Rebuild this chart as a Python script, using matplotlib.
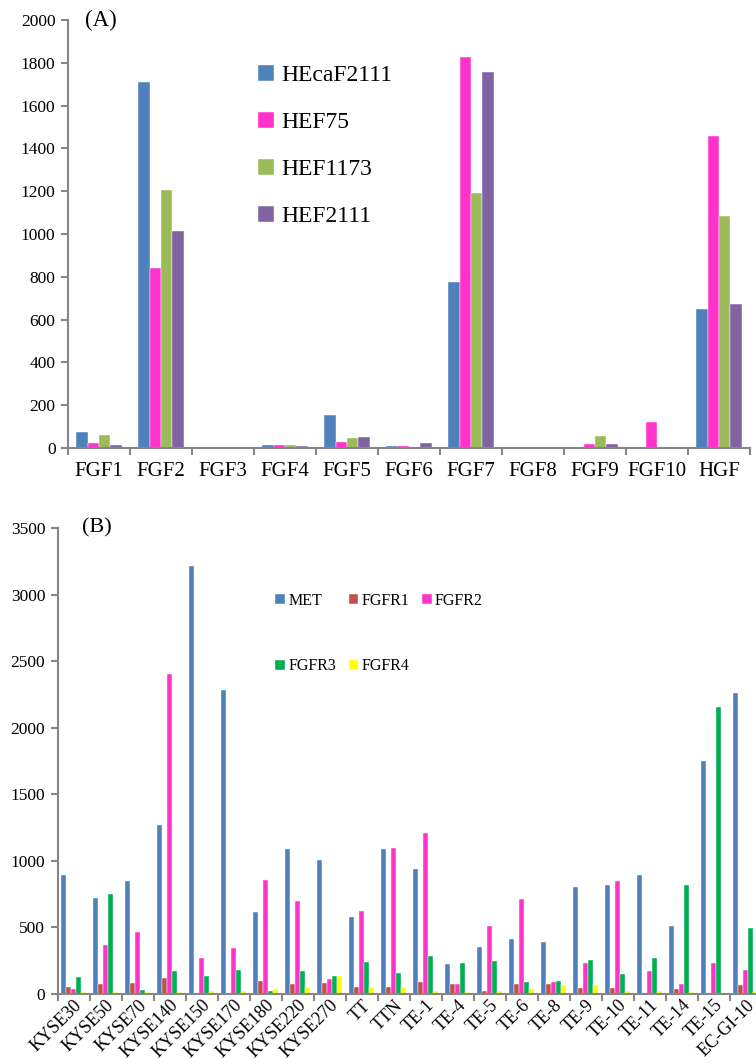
import numpy as np
import matplotlib.pyplot as plt

plt.rcParams['font.family'] = ['Liberation Serif', 'DejaVu Serif']

# Panel A data
genes_a = ['FGF1', 'FGF2', 'FGF3', 'FGF4', 'FGF5', 'FGF6', 'FGF7', 'FGF8', 'FGF9', 'FGF10', 'HGF']
hecaf2111 = [75, 1710, 0, 15, 155, 10, 778, 0, 0, 0, 648]
hef75 = [25, 840, 0, 12, 30, 10, 1825, 0, 17, 120, 1458]
hef1173 = [62, 1205, 0, 12, 48, 5, 1190, 0, 55, 0, 1085]
hef2111 = [15, 1015, 0, 8, 52, 25, 1758, 0, 20, 2, 675]
series_a = ['HEcaF2111', 'HEF75', 'HEF1173', 'HEF2111']

# Panel B data
cells_b = ['KYSE30', 'KYSE50', 'KYSE70', 'KYSE140', 'KYSE150', 'KYSE170', 'KYSE180',
           'KYSE220', 'KYSE270', 'TT', 'TTN', 'TE-1', 'TE-4', 'TE-5', 'TE-6', 'TE-8',
           'TE-9', 'TE-10', 'TE-11', 'TE-14', 'TE-15', 'EC-GI-10']
met = [895, 722, 848, 1268, 3215, 2280, 615, 1092, 1008, 582, 1092, 942, 225, 355,
       415, 392, 805, 820, 895, 512, 1750, 2258]
fgfr1 = [50, 75, 82, 122, 10, 10, 100, 78, 85, 50, 50, 92, 78, 22,
         78, 78, 48, 42, 10, 38, 10, 65]
fgfr2 = [40, 370, 468, 2405, 268, 348, 858, 698, 115, 620, 1100, 1210, 78, 510,
         710, 92, 232, 845, 172, 78, 235, 180]
fgfr3 = [128, 752, 30, 175, 135, 180, 25, 172, 132, 238, 158, 288, 235, 245,
         90, 95, 258, 152, 272, 815, 2155, 492]
fgfr4 = [18, 15, 18, 18, 22, 22, 40, 52, 132, 50, 55, 25, 15, 20,
         40, 65, 65, 20, 22, 18, 0, 18]
series_b = ['MET', 'FGFR1', 'FGFR2', 'FGFR3', 'FGFR4']

colors_a = ['#4F81BD', '#FF33CC', '#9BBB59', '#8064A2']
colors_b = ['#4F81BD', '#C0504D', '#FF33CC', '#00B050', '#FFFF00']
axis_gray = '#868686'

fig = plt.figure(figsize=(7.56, 10.64), dpi=100)


def style_axis(ax, n, ylim, yticks, fs_y):
    ax.set_xlim(-0.5, n - 0.5)
    ax.set_ylim(*ylim)
    ax.set_yticks(yticks)
    ax.set_xticks(np.arange(n))
    ax.set_xticks(np.arange(n + 1) - 0.5, minor=True)
    for s in ['top', 'right']:
        ax.spines[s].set_visible(False)
    for s in ['left', 'bottom']:
        ax.spines[s].set_color(axis_gray)
        ax.spines[s].set_linewidth(1.5)
    ax.tick_params(axis='x', which='major', length=0)
    ax.tick_params(axis='x', which='minor', length=5, width=1.5, color=axis_gray)
    ax.tick_params(axis='y', length=5, width=1.5, color=axis_gray, labelsize=fs_y, pad=4)


# ---- Panel A ----
ax1 = fig.add_axes([68 / 756, 1 - 448 / 1064, 682 / 756, 428 / 1064])
x = np.arange(len(genes_a))
w = 1 / 5.5
for i, vals in enumerate([hecaf2111, hef75, hef1173, hef2111]):
    ax1.bar(x + (i - 1.5) * w, vals, w, color=colors_a[i], label=series_a[i],
            edgecolor='white', linewidth=0.3, zorder=2)
style_axis(ax1, len(genes_a), (0, 2000), np.arange(0, 2001, 200), 12.5)
ax1.set_xticklabels(genes_a, fontsize=15)
ax1.tick_params(axis='x', which='major', pad=10)
ax1.text(0.025, 1.0, '(A)', transform=ax1.transAxes, fontsize=16.5, va='center', ha='left')
ax1.legend(loc='upper left', bbox_to_anchor=(0.262, 0.923), frameon=False, fontsize=17,
           handlelength=0.65, handleheight=0.65, handletextpad=0.3, labelspacing=1.1,
           borderpad=0)

# ---- Panel B ----
ax2 = fig.add_axes([57.7 / 756, 1 - 994 / 1064, 704 / 756, 466 / 1064])
x = np.arange(len(cells_b))
w = 1 / 6.5
for i, vals in enumerate([met, fgfr1, fgfr2, fgfr3, fgfr4]):
    ax2.bar(x + (i - 2) * w, vals, w, color=colors_b[i], label=series_b[i],
            edgecolor='white', linewidth=0.3, zorder=2)
style_axis(ax2, len(cells_b), (0, 3500), np.arange(0, 3501, 500), 12.5)
ax2.set_xticklabels(cells_b, fontsize=13, rotation=45, ha='right', rotation_mode='anchor')
ax2.tick_params(axis='x', which='major', pad=2)
ax2.text(0.035, 1.0, '(B)', transform=ax2.transAxes, fontsize=16, va='center', ha='left')
h, l = ax2.get_legend_handles_labels()
order = [0, 3, 1, 4, 2]
ax2.legend([h[k] for k in order], [l[k] for k in order], ncol=3, loc='upper left',
           bbox_to_anchor=(0.298, 0.878), frameon=False, fontsize=11.5,
           handlelength=0.6, handleheight=0.6, handletextpad=0.2, labelspacing=3.1,
           columnspacing=0.8, borderpad=0)

fig.savefig('out.png', dpi=100)
